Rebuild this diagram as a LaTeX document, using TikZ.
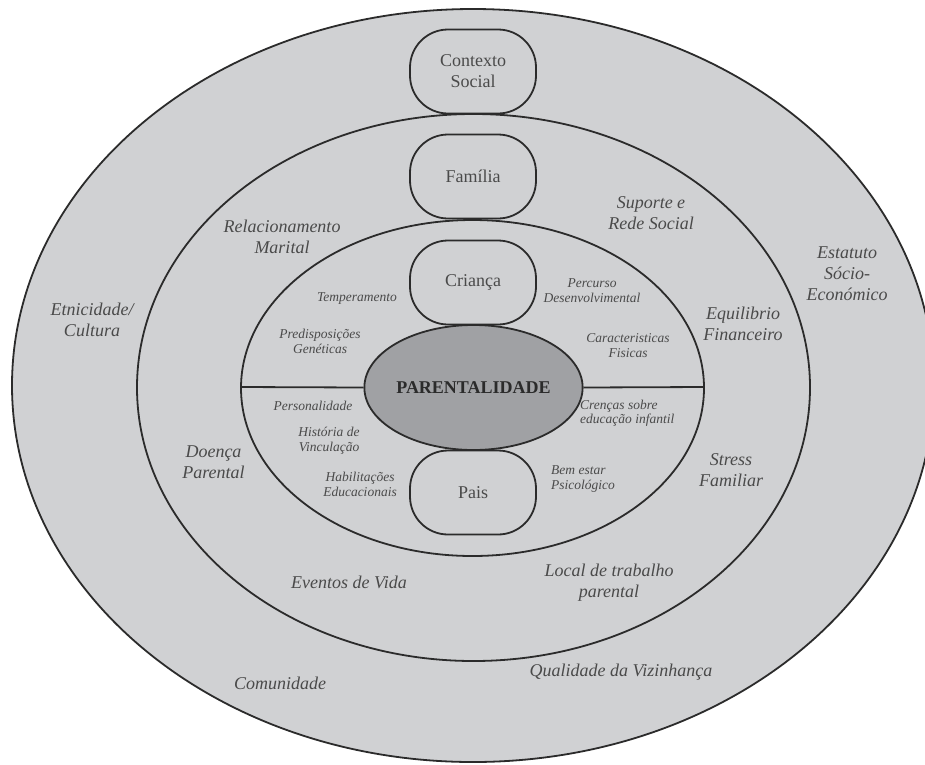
\documentclass[tikz,border=0pt]{standalone}
\usepackage{fontspec}
\setmainfont{Liberation Serif}
\usetikzlibrary{shapes.geometric}

\definecolor{RingGrey}{HTML}{D0D1D3}
\definecolor{CoreGrey}{HTML}{A0A1A4}
\definecolor{LineGrey}{HTML}{2B2B2B}
\definecolor{TextGrey}{HTML}{4A4A4A}

\tikzstyle{ring}=[draw=LineGrey, line width=1.8pt, fill=RingGrey]
\tikzstyle{divider}=[draw=LineGrey, line width=1.8pt]
\tikzstyle{level-box}=[draw=LineGrey, line width=1.8pt, fill=RingGrey, rounded corners=38pt, minimum width=126pt, minimum height=84pt, inner sep=0pt, align=center, text=TextGrey, font=\fontsize{18}{21}\selectfont]
\tikzstyle{core}=[ellipse, draw=LineGrey, line width=1.8pt, fill=CoreGrey, minimum width=211pt, minimum height=125pt, inner sep=0pt, text=LineGrey, font=\fontsize{18}{21}\selectfont\bfseries]
\tikzstyle{outer-label}=[align=center, text=TextGrey, inner sep=0pt, font=\fontsize{18}{21}\selectfont\itshape]
\tikzstyle{inner-label}=[align=center, text=TextGrey, inner sep=0pt, font=\fontsize{13.5}{14.5}\selectfont\itshape]

\begin{document}
\begin{tikzpicture}[x=1pt, y=-1pt]
  \useasboundingbox (0,0) rectangle (925,764);
  \clip (0,0) rectangle (925,764);
  \fill[white] (0,0) rectangle (925,764);

  % rings
  \draw[ring] (473,385.5) ellipse [x radius=461, y radius=376.5];
  \draw[ring] (473.5,387.5) ellipse [x radius=336.5, y radius=273.5];
  \draw[ring] (472.5,388) ellipse [x radius=231.5, y radius=168];
  \coordinate (inner-west) at (241,387);
  \coordinate (inner-east) at (704,387);

  % centre
  \node (core-parent) at (473.5,387.5) [core] {PARENTALIDADE};
  \draw[divider] (inner-west) -- (core-parent.west);
  \draw[divider] (core-parent.east) -- (inner-east);

  \node (box-contexto) at (473,71.5) [level-box] {Contexto\\Social};
  \node (box-familia) at (473,176.5) [level-box] {Família};
  \node (box-crianca) at (473,282.5) [level-box] {Criança};
  \node (box-pais) at (473,492.5) [level-box] {Pais};

  % contexto social
  \node (label-etnia) at (92,320) [outer-label] {Etnicidade/\\Cultura};
  \node (label-estatuto) at (847,274) [outer-label] {Estatuto\\Sócio-\\Económico};
  \node (label-comunidade) at (280,683) [outer-label] {Comunidade};
  \node (label-vizinhanca) at (621,672) [outer-label] {Qualidade da Vizinhança};

  % familia
  \node (label-marital) at (282,236.5) [outer-label] {Relacionamento\\Marital};
  \node (label-suporte) at (651,213.5) [outer-label] {Suporte e\\Rede Social};
  \node (label-financeiro) at (743,324) [outer-label] {Equilibrio\\Financeiro};
  \node (label-stress) at (731,470) [outer-label] {Stress\\Familiar};
  \node (label-doenca) at (213.5,462.5) [outer-label] {Doença\\Parental};
  \node (label-eventos) at (349,582) [outer-label] {Eventos de Vida};
  \node (label-trabalho) at (609,582.5) [outer-label] {Local de trabalho\\parental};

  % crianca
  \node (label-temperamento) at (357,299) [inner-label] {Temperamento};
  \node (label-genetica) at (320,341.5) [inner-label] {Predisposições\\Genéticas};
  \node (label-percurso) at (592,290.5) [inner-label] {Percurso\\Desenvolvimental};
  \node (label-fisicas) at (628,345.5) [inner-label] {Caracteristicas\\Fisicas};

  % pais
  \node (label-personalidade) at (313,406) [inner-label] {Personalidade};
  \node (label-vinculacao) at (329,440.5) [inner-label] {História de\\Vinculação};
  \node (label-habilitacoes) at (360,484.5) [inner-label] {Habilitações\\Educacionais};
  \node (label-crencas) at (580,413) [inner-label, anchor=west, align=left] {Crenças sobre\\educação infantil};
  \node (label-bemestar) at (551,479) [inner-label, anchor=west, align=left] {Bem estar\\Psicológico};
\end{tikzpicture}
\end{document}
